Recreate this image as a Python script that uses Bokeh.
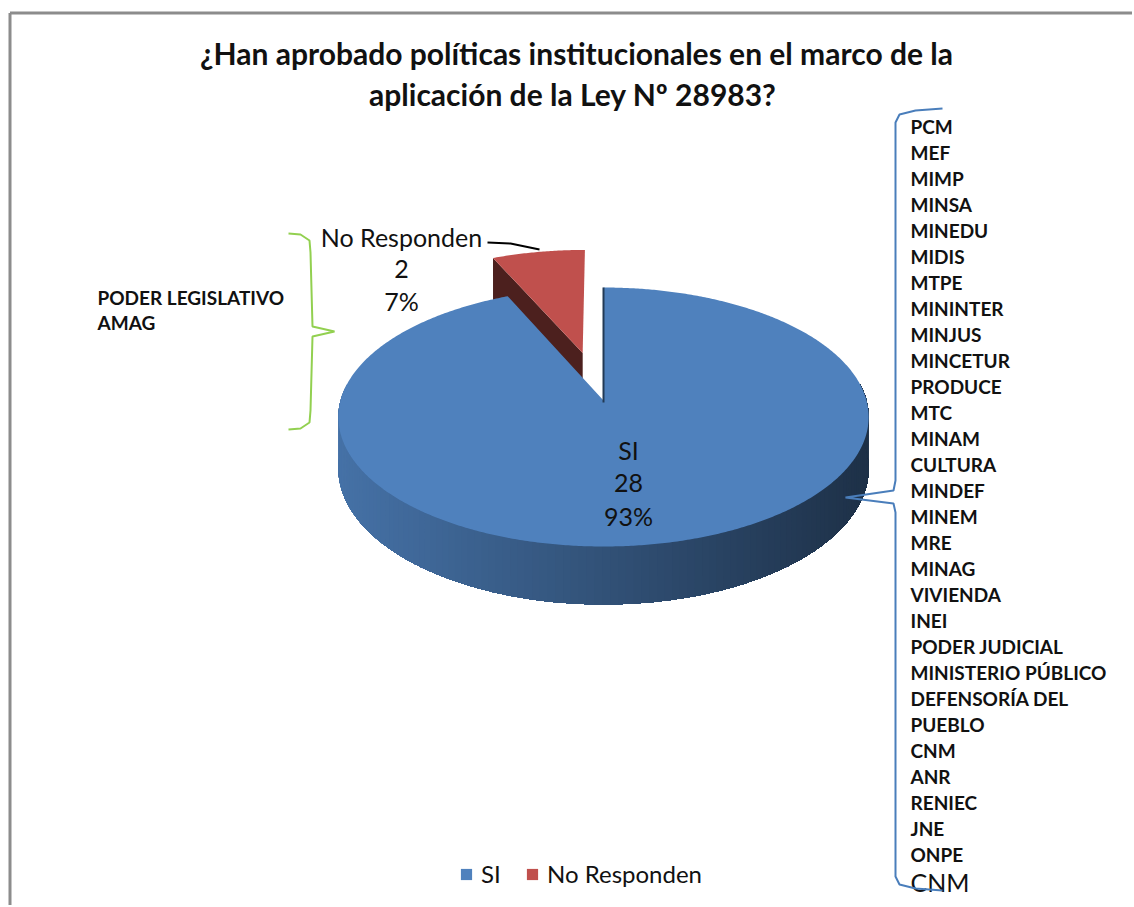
import numpy as np
from bokeh.plotting import figure
from bokeh.models import Range1d, ColumnDataSource, Legend, LegendItem
from bokeh.core.properties import value
from bokeh.embed import file_html
from bokeh.resources import INLINE

# ---------------- data ----------------
title_lines = ["¿Han aprobado políticas institucionales en el marco de la",
               "aplicación de la Ley  Nº 28983?"]
categories = ["SI", "No Responden"]
counts = [28, 2]
slice_colors = ["#4F81BD", "#C0504D"]
explode = [0.0, 0.40]
left_group = ["PODER LEGISLATIVO", "AMAG"]
right_group = ["PCM", "MEF", "MIMP", "MINSA", "MINEDU", "MIDIS", "MTPE", "MININTER",
               "MINJUS", "MINCETUR", "PRODUCE", "MTC", "MINAM", "CULTURA", "MINDEF",
               "MINEM", "MRE", "MINAG", "VIVIENDA", "INEI", "PODER JUDICIAL",
               "MINISTERIO PÚBLICO", "DEFENSORÍA DEL", "PUEBLO", "CNM", "ANR",
               "RENIEC", "JNE", "ONPE"]
right_extra = ["CNM"]

# ---------------- figure ----------------
W, H = 1132, 905
p = figure(width=W, height=H, x_range=Range1d(0, W), y_range=Range1d(H, 0),
           output_backend="svg", toolbar_location=None, min_border=0,
           x_axis_location=None, y_axis_location=None)
p.grid.visible = False
p.outline_line_color = None
p.background_fill_color = "white"

FONT = value("Lato")

# chart frame (gray border, left & top visible)
p.line([9.5, 9.5], [12.5, H], line_color="#8c8c8c", line_width=3)
p.line([9.5, W], [12.5, 12.5], line_color="#8c8c8c", line_width=3)

# ---------------- 3D pie projection ----------------
CX, CY = 603.0, 400.0
A, B, K, D0 = 263.0, 127.4, 0.1274, 50.6


def proj(u, v, bottom=False):
    s = 1.0 / (1.0 + K * v)
    X = CX + A * u * s
    Y = CY - B * v * s + (D0 * s if bottom else 0.0)
    return X, Y


def shade(hexcol, f):
    h = hexcol.lstrip("#")
    r, g, b = (int(h[i:i + 2], 16) for i in (0, 2, 4))
    return "#%02x%02x%02x" % (int(r * f), int(g * f), int(b * f))


total = float(sum(counts))
start = 90.0
slices = []
for cat, c, col, ex in zip(categories, counts, slice_colors, explode):
    sweep = c / total * 360.0
    a0, a1 = start, start - sweep
    mid = np.radians((a0 + a1) / 2)
    ou, ov = ex * np.cos(mid), ex * np.sin(mid)
    slices.append(dict(cat=cat, a0=a0, a1=a1, ou=ou, ov=ov, col=col, ex=ex))
    start = a1

# draw back (exploded) slices first, then main slice
order = sorted(range(len(slices)), key=lambda i: -slices[i]["ex"])
top_renderers = {}
for i in order:
    sl = slices[i]
    ou, ov = sl["ou"], sl["ov"]
    angs = np.radians(np.linspace(sl["a0"], sl["a1"], int(abs(sl["a0"] - sl["a1"])) * 2 + 2))

    # radial cut faces that face the viewer
    for edge, nshift in ((sl["a0"], 90.0), (sl["a1"], -90.0)):
        n = np.radians(edge + nshift)
        if np.sin(n) < -0.05:
            e = np.radians(edge)
            pts = [proj(ou, ov), proj(ou + np.cos(e), ov + np.sin(e)),
                   proj(ou + np.cos(e), ov + np.sin(e), True), proj(ou, ov, True)]
            p.patch([q[0] for q in pts], [q[1] for q in pts],
                    fill_color=shade(sl["col"], 0.40), line_color=None)

    # outer side (front-facing part): overlapping gradient bands, left to right
    front = [a for a in angs if np.sin(a) < 0.14]
    if front:
        fa = np.array(sorted(front, key=lambda a: (np.degrees(a) - 170) % 360))
        xs, ys, cols = [], [], []
        step = 3
        for j in range(0, len(fa) - 1, step):
            seg = fa[j:]
            topp = [proj(ou + np.cos(a), ov + np.sin(a)) for a in seg]
            botp = [proj(ou + np.cos(a), ov + np.sin(a), True) for a in seg[::-1]]
            xs.append([q[0] for q in topp + botp])
            ys.append([q[1] for q in topp + botp])
            t = np.clip((topp[0][0] - (CX - A)) / (2 * A), 0, 1)
            cols.append(shade(sl["col"], 0.88 - 0.50 * t))
        p.patches(xs="xs", ys="ys", fill_color="fc", line_color=None,
                  source=ColumnDataSource(dict(xs=xs, ys=ys, fc=cols)))

    # top face
    tx, ty = [proj(ou, ov)[0]], [proj(ou, ov)[1]]
    for a in angs:
        X, Y = proj(ou + np.cos(a), ov + np.sin(a))
        tx.append(X)
        ty.append(Y)
    top_renderers[sl["cat"]] = p.patch(tx, ty, fill_color=sl["col"], line_color=None)

    # thin dark edge along the 12 o'clock cut of the main slice
    if sl["ex"] == 0:
        e = np.radians(sl["a0"])
        c0 = proj(ou, ov)
        c1 = proj(ou + np.cos(e), ov + np.sin(e))
        p.line([c0[0], c1[0]], [c0[1] + 2, c1[1]], line_color=shade(sl["col"], 0.45), line_width=2)

# ---------------- data labels ----------------
pcts = [round(100 * c / total) for c in counts]
label_pos = {"SI": (628, 449, 33), "No Responden": (401, 236, 32)}
for cat, c, pc in zip(categories, counts, pcts):
    x0, y0, dy = label_pos[cat]
    lines = [cat, str(c), f"{pc}%"]
    p.text(x=[x0] * 3, y=[y0 + k * dy for k in range(3)], text=lines,
           text_align="center", text_baseline="middle", text_font=FONT,
           text_font_size="25px", text_color="#111111")

# leader line for exploded slice
p.line([487, 510, 539], [242, 243, 249], line_color="black", line_width=2)

# ---------------- title ----------------
p.text(x=[576, 576], y=[52, 93], text=title_lines, text_align="center",
       text_baseline="middle", text_font=FONT, text_font_style="bold",
       text_font_size="30px", text_color="#111111")

# ---------------- left group with green brace ----------------
p.text(x=[97] * len(left_group), y=[297 + 25 * k for k in range(len(left_group))],
       text=left_group, text_align="left", text_baseline="middle", text_font=FONT,
       text_font_style="bold", text_font_size="19px", text_color="#111111")
gx = [288, 300, 309, 310, 312, 334, 312, 310, 309, 300, 288]
gy = [233, 234, 240, 252, 326, 331, 336, 410, 422, 428, 429]
p.line(gx, gy, line_color="#92D050", line_width=2)

# ---------------- right group with blue brace ----------------
p.text(x=[910] * len(right_group), y=[126 + 26 * k for k in range(len(right_group))],
       text=right_group, text_align="left", text_baseline="middle", text_font=FONT,
       text_font_style="bold", text_font_size="19px", text_color="#111111")
p.text(x=[910], y=[126 + 26 * len(right_group) + 1], text=right_extra, text_align="left",
       text_baseline="middle", text_font=FONT, text_font_size="25px", text_color="#111111")
bx = [942, 915, 899, 895, 895, 893, 845, 893, 895, 895, 899, 915, 942]
by = [108, 110, 114, 122, 480, 490, 497, 503, 512, 876, 884, 888, 890]
p.line(bx, by, line_color="#4A7EBB", line_width=2)

# ---------------- legend ----------------
legend = Legend(items=[LegendItem(label=cat, renderers=[top_renderers[cat]]) for cat in categories],
                orientation="horizontal", location=(459, 17), border_line_color=None,
                background_fill_alpha=0, label_text_font="Lato", label_text_font_size="24px",
                label_text_color="#111111", glyph_width=14, glyph_height=14,
                label_standoff=8, spacing=24, padding=0, margin=0, label_height=24)
p.add_layout(legend, "center")

open("out.html", "w").write(file_html(p, INLINE))
